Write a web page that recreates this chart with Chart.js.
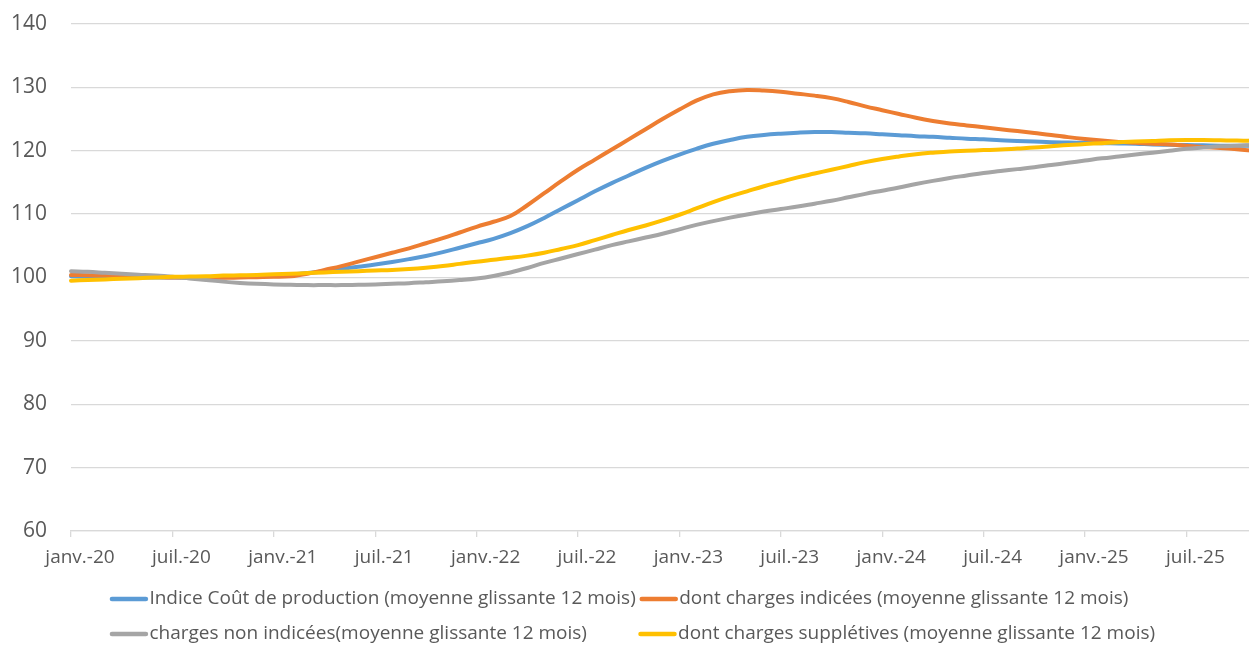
<!DOCTYPE html>
<html lang="fr">
<head>
<meta charset="utf-8">
<title>Indice coût de production</title>
<script src="https://cdn.jsdelivr.net/npm/chart.js@4.4.1/dist/chart.umd.min.js"></script>
<style>
  html, body { margin: 0; padding: 0; background: #fff; overflow: hidden; }
  canvas { display: block; }
</style>
</head>
<body>
<canvas id="graphique" width="1265" height="647"></canvas>
<script>
// axe des mois : janv.-20 -> nov.-25
const annees = ['20', '21', '22', '23', '24', '25'];
const moisCourts = ['janv.', 'févr.', 'mars', 'avr.', 'mai', 'juin', 'juil.', 'août', 'sept.', 'oct.', 'nov.', 'déc.'];
const nbMoisDerniereAnnee = 11;

const mois = [];
annees.forEach((a, k) => {
  moisCourts.forEach((m, j) => {
    if (k === annees.length - 1 && j >= nbMoisDerniereAnnee) return;
    mois.push(m + '-' + a);
  });
});

// valeurs (moyennes glissantes 12 mois)
const indiceCout = [
  100.2, 100.15, 100.1, 100.05, 100.0, 100.0,
  100.0, 100.0, 100.0, 100.05, 100.1, 100.2,
  100.3, 100.45, 100.7, 101.0, 101.35, 101.7,
  102.05, 102.45, 102.9, 103.4, 104.0, 104.7,
  105.4, 106.1, 107.0, 108.1, 109.4, 110.8,
  112.2, 113.6, 114.9, 116.1, 117.3, 118.4,
  119.4, 120.3, 121.1, 121.7, 122.2, 122.5,
  122.7, 122.85, 122.95, 122.95, 122.85, 122.75,
  122.6, 122.45, 122.3, 122.2, 122.05, 121.9,
  121.8, 121.65, 121.55, 121.45, 121.35, 121.3,
  121.25, 121.2, 121.15, 121.1, 121.0, 120.95,
  120.9, 120.85, 120.8, 120.8, 120.8
];
const chargesIndicees = [
  100.4, 100.35, 100.3, 100.25, 100.2, 100.1,
  100.0, 100.0, 99.95, 99.95, 100.0, 100.05,
  100.1, 100.2, 100.6, 101.2, 101.8, 102.5,
  103.2, 103.9, 104.6, 105.4, 106.2, 107.1,
  108.0, 108.8, 109.7, 111.4, 113.3, 115.2,
  117.0, 118.6, 120.2, 121.8, 123.4, 125.0,
  126.5, 127.9, 128.9, 129.4, 129.6, 129.5,
  129.3, 129.0, 128.7, 128.3, 127.7, 127.0,
  126.4, 125.8, 125.2, 124.7, 124.3, 124.0,
  123.7, 123.4, 123.1, 122.8, 122.5, 122.15,
  121.85, 121.6, 121.4, 121.25, 121.1, 121.0,
  120.8, 120.6, 120.45, 120.25, 120.0
];
const chargesNonIndicees = [
  101.0, 100.9, 100.75, 100.6, 100.45, 100.3,
  100.1, 99.85, 99.6, 99.35, 99.15, 99.0,
  98.9, 98.85, 98.8, 98.8, 98.8, 98.85,
  98.9, 99.0, 99.1, 99.25, 99.4, 99.6,
  99.85, 100.25, 100.8, 101.5, 102.3, 103.0,
  103.7, 104.4, 105.1, 105.7, 106.3, 106.9,
  107.6, 108.3, 108.9, 109.45, 109.95, 110.4,
  110.8, 111.2, 111.65, 112.1, 112.65, 113.2,
  113.7, 114.2, 114.75, 115.25, 115.7, 116.1,
  116.5, 116.8, 117.1, 117.4, 117.75, 118.1,
  118.45, 118.8, 119.1, 119.4, 119.7, 120.0,
  120.3, 120.5, 120.7, 120.8, 120.9
];
const chargesSuppletives = [
  99.5, 99.6, 99.7, 99.8, 99.9, 100.0,
  100.1, 100.15, 100.2, 100.3, 100.35, 100.4,
  100.5, 100.6, 100.7, 100.8, 100.9, 101.0,
  101.1, 101.2, 101.35, 101.55, 101.8, 102.15,
  102.5, 102.8, 103.1, 103.45, 103.9, 104.5,
  105.1, 105.9, 106.7, 107.5, 108.2, 109.0,
  109.9, 110.9, 111.9, 112.8, 113.6, 114.4,
  115.1, 115.8, 116.4, 117.0, 117.6, 118.2,
  118.7, 119.1, 119.45, 119.7, 119.9, 120.0,
  120.1, 120.2, 120.35, 120.5, 120.7, 120.9,
  121.05, 121.2, 121.35, 121.45, 121.55, 121.65,
  121.7, 121.7, 121.65, 121.6, 121.6
];

const couleurTexte = '#595959';
const couleurGrille = '#d9d9d9';
const policeLegende = '19px "Open Sans"';
const longueurTrait = 38;

Chart.defaults.font.family = '"Open Sans"';

// légende façon Excel : deux colonnes alignées, carré invisible (le trait est tracé par le plugin)
function etiquettesLegende(chart) {
  const items = Chart.defaults.plugins.legend.labels.generateLabels(chart);
  items.sort((a, b) => a.datasetIndex - b.datasetIndex);
  items.forEach(item => {
    item.fillStyle = 'rgba(0,0,0,0)';
    item.strokeStyle = 'rgba(0,0,0,0)';
    item.lineWidth = 0;
  });

  const ctx = chart.ctx;
  ctx.save();
  ctx.font = policeLegende;
  const blanc = ['\u200A', '\u2009', ' '].find(c => ctx.measureText('a' + c).width > ctx.measureText('a').width) || ' ';
  for (let col = 0; col < 2; col++) {
    const colonne = items.filter((it, i) => i % 2 === col);
    const largeur = Math.max(...colonne.map(it => ctx.measureText(it.text).width));
    colonne.forEach(it => {
      let n = 0;
      while (ctx.measureText(it.text + blanc).width <= largeur + 0.5 && n < 300) {
        it.text += blanc;
        n++;
      }
    });
  }
  ctx.restore();
  return items;
}

// décale la légende et dessine les traits de couleur
const legendeExcel = {
  id: 'legendeExcel',
  afterLayout(chart) {
    if (chart.legend) chart.legend.left += 11;
  },
  afterDraw(chart) {
    const legende = chart.legend;
    if (!legende || !legende.legendHitBoxes) return;
    const c = chart.ctx;
    c.save();
    c.lineWidth = 4.5;
    c.lineCap = 'round';
    legende.legendHitBoxes.forEach((box, i) => {
      const item = legende.legendItems[i];
      if (!item) return;
      const y = box.top + box.height / 2;
      c.strokeStyle = chart.data.datasets[item.datasetIndex].borderColor;
      c.beginPath();
      c.moveTo(box.left + 2, y);
      c.lineTo(box.left + longueurTrait - 2, y);
      c.stroke();
    });
    c.restore();
  }
};

const ctx = document.getElementById('graphique').getContext('2d');
new Chart(ctx, {
  type: 'line',
  data: {
    labels: mois,
    datasets: [
      {
        label: 'Indice Coût de production (moyenne glissante 12 mois)',
        data: indiceCout,
        borderColor: '#5B9BD5',
        order: 4
      },
      {
        label: 'dont charges indicées (moyenne glissante 12 mois)',
        data: chargesIndicees,
        borderColor: '#ED7D31',
        order: 3
      },
      {
        label: 'charges non indicées(moyenne glissante 12 mois)',
        data: chargesNonIndicees,
        borderColor: '#A5A5A5',
        order: 2
      },
      {
        label: 'dont charges supplétives (moyenne glissante 12 mois)',
        data: chargesSuppletives,
        borderColor: '#FFC000',
        order: 1
      }
    ]
  },
  options: {
    responsive: false,
    animation: false,
    elements: {
      line: { borderWidth: 4, tension: 0.4, borderCapStyle: 'round', fill: false },
      point: { radius: 0, hoverRadius: 0 }
    },
    layout: { padding: { left: 0, right: 11, top: 24, bottom: -12.5 } },
    plugins: {
      legend: {
        position: 'bottom',
        labels: {
          color: couleurTexte,
          font: { size: 19 },
          boxWidth: 30,
          boxHeight: 31,
          padding: 4,
          generateLabels: etiquettesLegende
        }
      },
      tooltip: { enabled: false }
    },
    scales: {
      x: {
        grid: { drawOnChartArea: false, color: couleurGrille, lineWidth: 1.3, tickLength: 6 },
        border: { color: couleurGrille, width: 1.3 },
        ticks: {
          autoSkip: false,
          maxRotation: 0,
          labelOffset: 9,
          padding: 9,
          color: couleurTexte,
          font: { size: 19 },
          callback: (v, i) => (i % 6 === 0 ? mois[i] : null)
        },
        afterFit: s => { s.height = 48.5; }
      },
      y: {
        min: 60,
        max: 140,
        ticks: { stepSize: 10, padding: 0, color: couleurTexte, font: { size: 21 } },
        grid: { color: couleurGrille, lineWidth: 1.3, drawTicks: true, tickLength: 24, tickColor: 'rgba(0,0,0,0)' },
        border: { display: false },
        afterFit: s => { s.width = 71; }
      }
    }
  },
  plugins: [legendeExcel]
});
</script>
</body>
</html>
